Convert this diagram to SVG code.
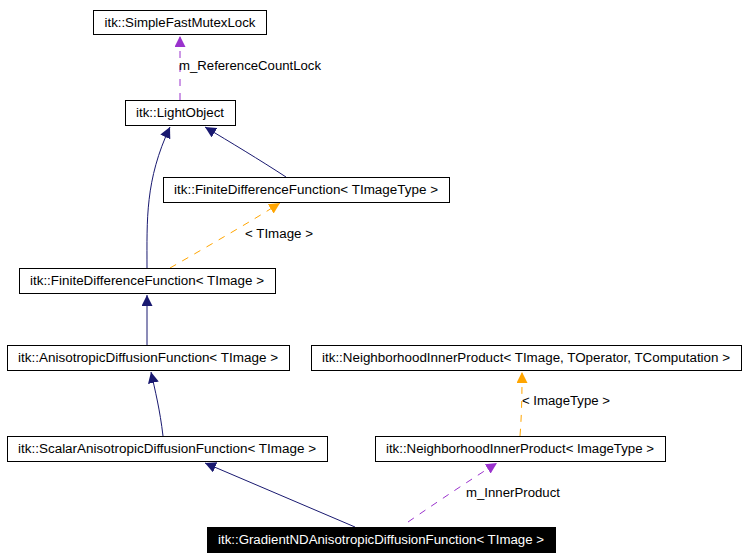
<svg xmlns="http://www.w3.org/2000/svg" width="748" height="559" viewBox="0 0 748 559">
<style>
.n rect{fill:#fff;stroke:#000;stroke-width:1}
text{font-family:"Liberation Sans",Arial,sans-serif;font-size:12.5px}
.n text{text-anchor:middle}
.b{fill:none;stroke:#191970;stroke-width:1}
.o{fill:none;stroke:#ffa500;stroke-width:1;stroke-dasharray:7,7}
.p{fill:none;stroke:#9a32cd;stroke-width:1;stroke-dasharray:7,7}
</style>
<defs>
<marker id="mb" viewBox="0 0 10 10" refX="10" refY="5" markerWidth="11" markerHeight="11" markerUnits="userSpaceOnUse" orient="auto"><path d="M0,0L10,5L0,10z" fill="#191970"/></marker>
<marker id="mo" viewBox="0 0 10 10" refX="10" refY="5" markerWidth="11" markerHeight="11" markerUnits="userSpaceOnUse" orient="auto"><path d="M0,0L10,5L0,10z" fill="#ffa500"/></marker>
<marker id="mp" viewBox="0 0 10 10" refX="10" refY="5" markerWidth="11" markerHeight="11" markerUnits="userSpaceOnUse" orient="auto"><path d="M0,0L10,5L0,10z" fill="#9a32cd"/></marker>
</defs>
<g id="edges">
<path class="p" d="M180,100L180,36" marker-end="url(#mp)"/>
<text x="179" y="70" textLength="142" lengthAdjust="spacingAndGlyphs">m_ReferenceCountLock</text>
<path class="b" d="M147,268C147,220 145,180 170,127" marker-end="url(#mb)"/>
<path class="b" d="M286,177C260,160 230,142 205,127" marker-end="url(#mb)"/>
<path class="o" d="M170,268C210,245 250,222 280,203" marker-end="url(#mo)"/>
<text x="245" y="238" textLength="68" lengthAdjust="spacingAndGlyphs">&lt; TImage &gt;</text>
<path class="b" d="M147,345L147,295" marker-end="url(#mb)"/>
<path class="b" d="M163,436C160,410 155,390 151,372" marker-end="url(#mb)"/>
<path class="b" d="M355,527L205,463" marker-end="url(#mb)"/>
<path class="p" d="M408,522C440,500 470,480 497,463" marker-end="url(#mp)"/>
<text x="466" y="497" textLength="94" lengthAdjust="spacingAndGlyphs">m_InnerProduct</text>
<path class="o" d="M520,436C522,410 522,390 522,372" marker-end="url(#mo)"/>
<text x="522" y="405" textLength="88" lengthAdjust="spacingAndGlyphs">&lt; ImageType &gt;</text>
</g>
<g id="n1" class="n"><rect x="93.500" y="10.500" width="173" height="24"/><text x="180" y="27" textLength="151" lengthAdjust="spacingAndGlyphs">itk::SimpleFastMutexLock</text></g>
<g id="n2" class="n"><rect x="125.500" y="100.500" width="110" height="25"/><text x="180" y="117" textLength="88" lengthAdjust="spacingAndGlyphs">itk::LightObject</text></g>
<g id="n3" class="n"><rect x="163.500" y="177.500" width="286" height="25"/><text x="306" y="194" textLength="264" lengthAdjust="spacingAndGlyphs">itk::FiniteDifferenceFunction&lt; TImageType &gt;</text></g>
<g id="n4" class="n"><rect x="19.500" y="268.500" width="256" height="25"/><text x="147" y="285" textLength="234" lengthAdjust="spacingAndGlyphs">itk::FiniteDifferenceFunction&lt; TImage &gt;</text></g>
<g id="n5" class="n"><rect x="7.500" y="345.500" width="282" height="25"/><text x="148" y="362" textLength="260" lengthAdjust="spacingAndGlyphs">itk::AnisotropicDiffusionFunction&lt; TImage &gt;</text></g>
<g id="n6" class="n"><rect x="311.500" y="345.500" width="430" height="25"/><text x="526" y="362" textLength="408" lengthAdjust="spacingAndGlyphs">itk::NeighborhoodInnerProduct&lt; TImage, TOperator, TComputation &gt;</text></g>
<g id="n7" class="n"><rect x="7.500" y="436.500" width="320" height="25"/><text x="167" y="453" textLength="298" lengthAdjust="spacingAndGlyphs">itk::ScalarAnisotropicDiffusionFunction&lt; TImage &gt;</text></g>
<g id="n8" class="n"><rect x="375.500" y="436.500" width="290" height="25"/><text x="520" y="453" textLength="268" lengthAdjust="spacingAndGlyphs">itk::NeighborhoodInnerProduct&lt; ImageType &gt;</text></g>
<g id="n9" class="n"><rect x="207.500" y="527.500" width="348" height="25" style="fill:#000"/><text x="381" y="544" fill="#fff" textLength="326" lengthAdjust="spacingAndGlyphs">itk::GradientNDAnisotropicDiffusionFunction&lt; TImage &gt;</text></g>
</svg>
